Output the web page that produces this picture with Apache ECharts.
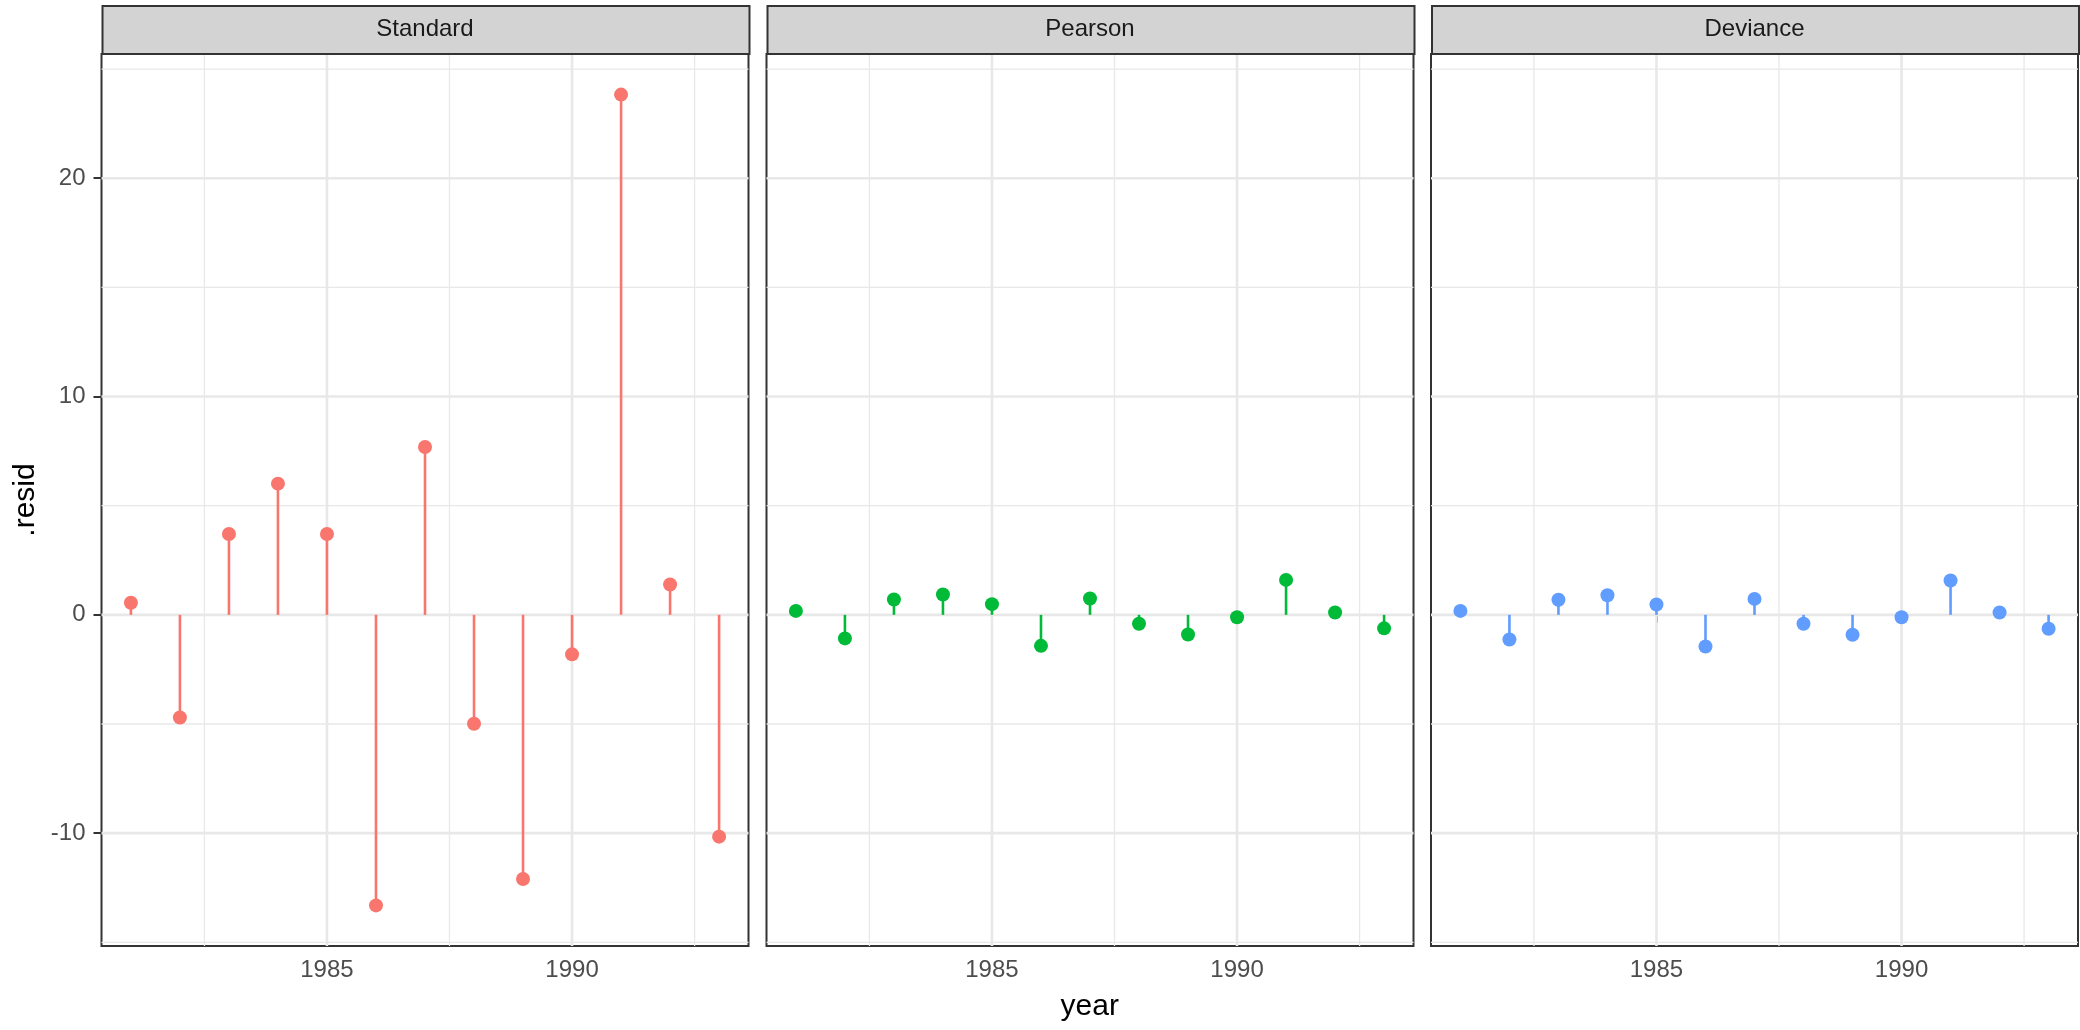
<!DOCTYPE html>
<html><head><meta charset="utf-8">
<script src="https://cdn.jsdelivr.net/npm/echarts@6/dist/echarts.min.js"></script>
<style>html,body{margin:0;padding:0;background:#fff}#c{width:2080px;height:1030px}</style>
</head><body><div id="c"></div>
<script>
// ---- data ----
const years = [1981, 1982, 1983, 1984, 1985, 1986, 1987, 1988, 1989, 1990, 1991, 1992, 1993];
const standardResid = [0.55, -4.70, 3.70, 6.01, 3.70, -13.31, 7.69, -4.99, -12.10, -1.81, 23.83, 1.39, -10.16];
const pearsonResid  = [0.18, -1.08, 0.70, 0.93, 0.49, -1.42, 0.75, -0.41, -0.90, -0.11, 1.60, 0.11, -0.62];
const devianceResid = [0.18, -1.13, 0.69, 0.90, 0.47, -1.45, 0.73, -0.41, -0.91, -0.11, 1.57, 0.11, -0.64];
const panelNames = ['Standard', 'Pearson', 'Deviance'];
const panelColors = ['#F8766D', '#00BA38', '#619CFF'];
const xMajorTicks = [1985, 1990];
const xMinorTicks = [1982.5, 1987.5, 1992.5];
const yMajorTicks = [-10, 0, 10, 20];
const yMinorTicks = [-15, -5, 5, 15, 25];
const xTitle = 'year';
const yTitle = '.resid';

// ---- layout ----
const FONT = '"Liberation Sans", Arial, Helvetica, sans-serif';
const X_MIN = 1980.4, X_MAX = 1993.6, Y_MIN = -15.17, Y_MAX = 25.69;
const panelLeft = [101.5, 766.5, 1431];
const PW = 647, PT = 54, PH = 892;
const values = [standardResid, pearsonResid, devianceResid];

const grid = [], xAxis = [], yAxis = [], series = [], graphic = [];

panelNames.forEach((name, i) => {
  grid.push({left: panelLeft[i], top: PT, width: PW, height: PH, show: true,
    borderColor: '#333333', borderWidth: 2, backgroundColor: '#ffffff', containLabel: false});
  xAxis.push({type: 'value', gridIndex: i, min: X_MIN, max: X_MAX,
    axisLine: {show: false}, splitLine: {show: false},
    axisTick: {show: true, customValues: xMajorTicks, length: 8, lineStyle: {color: '#333333', width: 2}},
    axisLabel: {show: true, customValues: xMajorTicks, margin: 12, color: '#4D4D4D', fontSize: 24, fontFamily: FONT,
      formatter: v => String(v)}});
  yAxis.push({type: 'value', gridIndex: i, min: Y_MIN, max: Y_MAX,
    axisLine: {show: false}, splitLine: {show: false},
    axisTick: {show: i === 0, customValues: yMajorTicks, length: 8, lineStyle: {color: '#333333', width: 2}},
    axisLabel: {show: i === 0, customValues: yMajorTicks, margin: 16, color: '#4D4D4D', fontSize: 24, fontFamily: FONT,
      formatter: v => String(v)}});

  // grid lines: [value, vertical?, major?]
  const gl = [];
  xMinorTicks.forEach(v => gl.push([v, 1, 0]));
  yMinorTicks.forEach(v => gl.push([v, 0, 0]));
  xMajorTicks.forEach(v => gl.push([v, 1, 1]));
  yMajorTicks.forEach(v => gl.push([v, 0, 1]));
  series.push({type: 'custom', xAxisIndex: i, yAxisIndex: i, z: 1, silent: true, clip: true,
    data: gl,
    encode: {x: -1, y: -1},
    renderItem: (params, api) => {
      const v = api.value(0), vert = api.value(1), major = api.value(2);
      let p1, p2;
      if (vert) { p1 = api.coord([v, Y_MIN]); p2 = api.coord([v, Y_MAX]); }
      else { p1 = api.coord([X_MIN, v]); p2 = api.coord([X_MAX, v]); }
      return {type: 'line', shape: {x1: p1[0], y1: p1[1], x2: p2[0], y2: p2[1]},
        style: {stroke: '#E8E8E8', lineWidth: major ? 2.6 : 1.3}};
    }});

  const pts = years.map((y, k) => [y, values[i][k]]);
  series.push({type: 'custom', xAxisIndex: i, yAxisIndex: i, z: 3, silent: true, clip: true,
    data: pts,
    renderItem: (params, api) => {
      const a = api.coord([api.value(0), 0]);
      const b = api.coord([api.value(0), api.value(1)]);
      return {type: 'line', shape: {x1: a[0], y1: a[1], x2: b[0], y2: b[1]},
        style: {stroke: panelColors[i], lineWidth: 2.6}};
    }});
  series.push({type: 'scatter', xAxisIndex: i, yAxisIndex: i, z: 4, silent: true,
    data: pts, symbol: 'circle', symbolSize: 14,
    itemStyle: {color: panelColors[i], borderWidth: 0, opacity: 1}});

  graphic.push({type: 'rect', left: panelLeft[i], top: 5, silent: true, z: 10,
    shape: {x: 0, y: 0, width: PW, height: 48},
    style: {fill: '#D3D3D3', stroke: '#333333', lineWidth: 2}});
  graphic.push({type: 'text', x: panelLeft[i] + PW / 2, y: 29, silent: true, z: 11,
    style: {text: name, font: '24px ' + FONT, fill: '#1A1A1A', align: 'center', verticalAlign: 'middle'}});
});

graphic.push({type: 'text', x: (panelLeft[0] + panelLeft[2] + PW) / 2, y: 1007, silent: true,
  style: {text: xTitle, font: '30px ' + FONT, fill: '#000000', align: 'center', verticalAlign: 'middle'}});
graphic.push({type: 'text', x: 26, y: PT + PH / 2, rotation: Math.PI / 2, silent: true,
  style: {text: yTitle, font: '30px ' + FONT, fill: '#000000', align: 'center', verticalAlign: 'middle'}});

const chart = echarts.init(document.getElementById('c'), null, {renderer: 'canvas', width: 2080, height: 1030});
chart.setOption({animation: false, backgroundColor: '#ffffff', grid, xAxis, yAxis, series, graphic});
</script>
</body></html>
